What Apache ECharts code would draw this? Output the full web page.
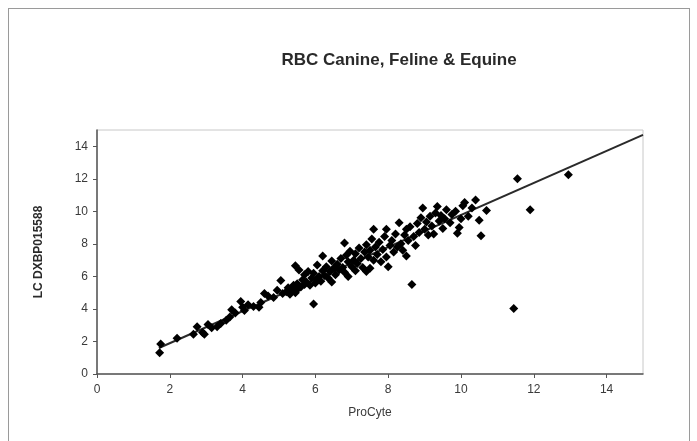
<!DOCTYPE html>
<html>
<head>
<meta charset="utf-8">
<script src="https://cdn.jsdelivr.net/npm/echarts@6/dist/echarts.min.js"></script>
<style>
html,body{margin:0;padding:0;background:#fff;}
#wrap{position:relative;width:697px;height:441px;overflow:hidden;}
#chart{position:absolute;left:0;top:0;width:697px;height:441px;}
#frame{position:absolute;left:8px;top:8px;width:680px;height:460px;border:1px solid #9a9a9a;pointer-events:none;}
</style>
</head>
<body>
<div id="wrap"><div id="chart"></div><div id="frame"></div></div>
<script>
const titleText = 'RBC Canine, Feline & Equine';
const xAxisName = 'ProCyte';
const yAxisName = 'LC DXBP015588';

// ProCyte values (x)
const procyte = [
1.72,1.75,2.2,2.65,2.75,2.9,2.95,3.05,3.15,3.3,3.4,
3.55,3.65,3.7,3.8,3.95,4.0,4.05,4.15,4.3,4.45,4.5,
4.6,4.7,4.85,4.95,5.05,5.1,5.2,5.25,5.3,5.35,5.4,5.45,5.45,5.5,5.5,
5.55,5.6,5.65,5.7,5.7,5.75,5.8,5.85,5.9,5.95,5.95,6.0,6.05,6.05,6.1,6.15,6.2,6.2,6.25,6.3,6.35,6.4,6.45,6.45,6.5,
6.55,6.6,6.65,6.7,6.75,6.8,6.8,6.85,6.9,6.9,6.95,7.0,7.05,7.1,7.1,7.15,7.2,7.25,7.3,7.35,7.4,7.4,7.45,7.5,7.5,
7.55,7.6,7.6,7.65,7.7,7.75,7.8,7.85,7.9,7.95,7.95,8.0,8.05,8.1,8.15,8.2,8.25,8.3,8.35,8.4,8.45,8.5,8.5,
8.55,8.6,8.65,8.7,8.75,8.8,8.85,8.9,8.95,9.0,9.05,9.1,9.15,9.2,9.25,9.3,9.35,9.4,9.45,9.5,
9.55,9.6,9.7,9.75,9.85,9.9,9.95,10.0,10.05,10.1,10.2,10.3,10.4,10.5,10.55,10.7,
11.45,11.55,11.9,12.95
];
// LC DXBP015588 values (y)
const lcdx = [
1.3,1.85,2.2,2.45,2.9,2.55,2.45,3.05,2.85,2.9,3.1,
3.3,3.5,3.95,3.75,4.45,4.1,3.9,4.25,4.15,4.1,4.4,
4.95,4.8,4.7,5.15,5.75,4.95,5.05,5.3,4.9,5.25,5.45,6.65,5.0,5.55,5.2,
6.4,5.35,5.8,5.5,6.1,5.65,6.3,5.45,5.9,4.3,6.2,5.6,5.85,6.7,6.0,5.7,7.25,6.35,6.05,6.6,5.9,6.3,5.65,6.95,6.5,
6.1,6.75,6.4,7.1,6.55,8.05,6.25,7.3,6.0,6.9,7.55,6.6,7.0,7.4,6.35,6.8,7.75,7.1,6.55,7.5,6.3,7.95,7.2,6.5,7.6,
8.3,8.9,7.0,7.8,7.35,8.1,6.9,7.65,8.45,8.9,7.2,6.6,7.9,8.2,7.5,8.6,7.8,9.3,8.0,7.6,8.55,7.25,8.9,
8.2,9.05,5.5,8.45,7.9,9.25,8.7,9.6,10.2,8.9,9.35,8.55,9.7,9.1,8.6,9.9,10.3,9.4,9.75,8.95,
9.55,10.1,9.3,9.8,10.0,8.65,9.0,9.55,10.35,10.55,9.7,10.2,10.7,9.45,8.5,10.05,
4.03,12.0,10.1,12.25
];
// Fitted line end points
const fitX = [1.7, 15];
const fitY = [1.6, 14.7];

const points = procyte.map((v, i) => [v, lcdx[i]]);
const fitLine = fitX.map((v, i) => [v, fitY[i]]);

const chart = echarts.init(document.getElementById('chart'), null, {renderer: 'canvas'});
const axisLabelStyle = {color: '#3a3a3a', fontSize: 12, fontFamily: 'Liberation Sans, Arial, sans-serif'};
chart.setOption({
  animation: false,
  backgroundColor: '#fff',
  title: {
    text: titleText,
    left: 394,
    top: 47,
    textAlign: 'center',
    textStyle: {fontSize: 17, fontWeight: 'bold', color: '#2a2a2a', fontFamily: 'Liberation Sans, Arial, sans-serif'}
  },
  grid: {left: 97, right: 54, top: 130, bottom: 67, show: true, borderColor: '#c8c8c8', borderWidth: 1, backgroundColor: 'transparent'},
  xAxis: {
    type: 'value', min: 0, max: 15, interval: 2,
    name: xAxisName, nameLocation: 'middle', nameGap: 33,
    nameTextStyle: {fontSize: 12, color: '#3a3a3a', fontFamily: 'Liberation Sans, Arial, sans-serif'},
    axisLine: {show: true, lineStyle: {color: '#555', width: 1.5}},
    axisTick: {show: true, length: 4, lineStyle: {color: '#555'}},
    axisLabel: Object.assign({showMaxLabel: false, margin: 10}, axisLabelStyle),
    splitLine: {show: false}
  },
  yAxis: {
    type: 'value', min: 0, max: 15, interval: 2,
    name: yAxisName, nameLocation: 'middle', nameGap: 52, nameRotate: 90,
    nameTextStyle: {fontSize: 12, fontWeight: 'bold', color: '#2a2a2a', fontFamily: 'Liberation Sans, Arial, sans-serif'},
    axisLine: {show: true, lineStyle: {color: '#555', width: 1.5}},
    axisTick: {show: true, length: 4, lineStyle: {color: '#555'}},
    axisLabel: Object.assign({showMaxLabel: false, margin: 9}, axisLabelStyle),
    splitLine: {show: false}
  },
  series: [
    {
      type: 'scatter', data: points, symbol: 'diamond', symbolSize: 9,
      itemStyle: {color: '#000', opacity: 1}, z: 3
    },
    {
      type: 'line', data: fitLine, symbol: 'none', showSymbol: false,
      lineStyle: {color: '#2a2a2a', width: 2}, z: 2
    }
  ]
});
</script>
</body>
</html>
